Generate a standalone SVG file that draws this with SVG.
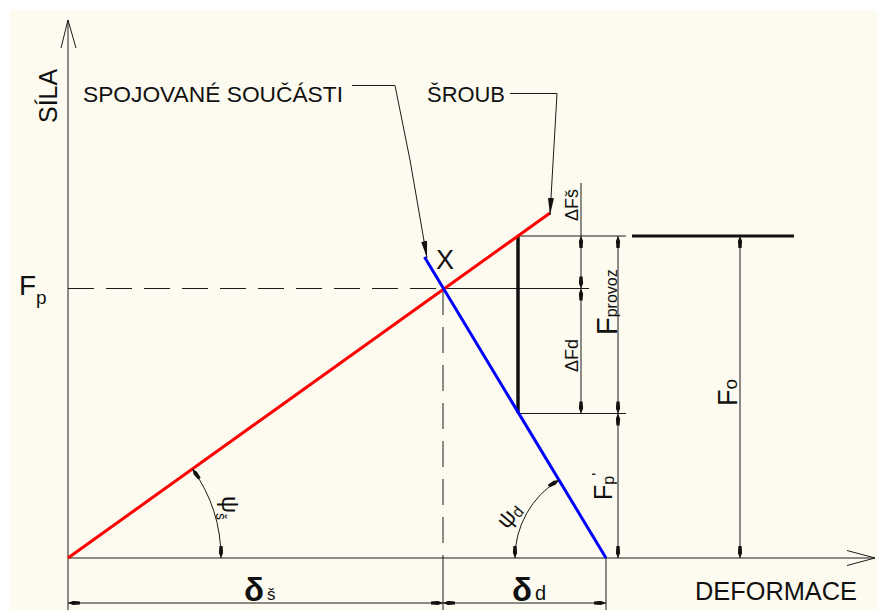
<svg xmlns="http://www.w3.org/2000/svg" width="877" height="610" viewBox="0 0 877 610">
<defs>
<style>
.ln{stroke:#1a1a1a;stroke-width:1;fill:none}
.dash{stroke:#1a1a1a;stroke-width:1;fill:none;stroke-dasharray:26 12}
.dim{stroke:#1a1a1a;stroke-width:1;fill:none;marker-start:url(#da);marker-end:url(#da)}
.lead{stroke:#1a1a1a;stroke-width:1;fill:none;marker-end:url(#la)}
text{font-family:"Liberation Sans",Arial,sans-serif;fill:#111}
</style>
<marker id="da" markerUnits="userSpaceOnUse" viewBox="0 0 13 5" markerWidth="13" markerHeight="5" refX="13" refY="2.5" orient="auto-start-reverse">
<path d="M13,2.5 L8,0.4 L1,0.9 L1,4.1 L8,4.6 z" fill="#111"/>
</marker>
<marker id="la" markerUnits="userSpaceOnUse" viewBox="0 0 17 6" markerWidth="17" markerHeight="6" refX="17" refY="3" orient="auto">
<path d="M0,0 L17,3 L0,6 z" fill="#111"/>
</marker>
</defs>
<rect width="877" height="610" fill="#ffffff"/>
<rect x="10" y="10" width="867" height="600" fill="#fdfbef"/>

<g id="axes">
<path class="ln" d="M68,610 V20 M61,48 L68,20 L76,48"/>
<path class="ln" d="M68,558 H875 M847,550.5 L875,558 L847,565.5"/>
<text transform="translate(57,123) rotate(-90)" font-size="25">SÍLA</text>
<text x="695" y="600" font-size="25.5" textLength="162" lengthAdjust="spacingAndGlyphs">DEFORMACE</text>
<text x="19" y="295" font-size="28">F<tspan font-size="19" dy="9">p</tspan></text>
</g>

<g id="connectors">
<path class="dash" d="M68,288.5 H443"/>
<path class="dash" d="M443,289 V558"/>
<path class="ln" d="M443,288.5 H589"/>
<path class="ln" d="M443,558 V610 M606,558 V610"/>
<path class="ln" d="M518,236 H626 M518,413.5 H626"/>
<line x1="632" y1="236" x2="794" y2="236" stroke="#111" stroke-width="3"/>
<line x1="518" y1="236" x2="518" y2="413" stroke="#111" stroke-width="3.5"/>
</g>

<g id="lines">
<line x1="68" y1="558" x2="550" y2="213" stroke="#ff0000" stroke-width="3"/>
<line x1="424.5" y1="257" x2="606" y2="558" stroke="#0000ff" stroke-width="3"/>
<text x="436" y="269" font-size="27">X</text>
</g>

<g id="leaders">
<text x="83" y="102" font-size="22" textLength="260" lengthAdjust="spacingAndGlyphs">SPOJOVANÉ SOUČÁSTI</text>
<path class="lead" d="M352,85.5 H395 L410,160 L427,258"/>
<text x="427" y="102" font-size="22" textLength="78" lengthAdjust="spacingAndGlyphs">ŠROUB</text>
<path class="lead" d="M510,93.5 H557 L550,215"/>
</g>

<g id="dims">
<path class="ln" d="M581,183 V236"/>
<path class="dim" d="M581,236 V288.5"/>
<path class="dim" d="M581,288.5 V413.5"/>
<text transform="translate(578,221) rotate(-90)" font-size="18">ΔFš</text>
<text transform="translate(578,372) rotate(-90)" font-size="18">ΔFd</text>
<path class="dim" d="M618,236 V413.5"/>
<path class="dim" d="M618,413.5 V558"/>
<text transform="translate(617,335) rotate(-90)" font-size="29">F<tspan font-size="16">provoz</tspan></text>
<text transform="translate(612,500) rotate(-90)" font-size="25">F<tspan font-size="16" dy="2">p</tspan><tspan font-size="16" dy="-10">'</tspan></text>
<path class="dim" d="M740,236 V558"/>
<text transform="translate(737,406) rotate(-90)" font-size="27">F<tspan font-size="19">o</tspan></text>
<path class="dim" d="M68,603 H443"/>
<path class="dim" d="M443,603 H606"/>
<text x="244" y="601" font-size="33" font-weight="bold">δ</text>
<text x="267" y="600" font-size="17">š</text>
<text x="512" y="601" font-size="33" font-weight="bold">δ</text>
<text x="535" y="600" font-size="20">d</text>
</g>

<g id="angles">
<path class="dim" d="M192.4,468.9 A153,153 0 0 1 221,558"/>
<text transform="translate(222,496) rotate(90)" font-size="24">ψ<tspan font-size="14" dy="6">š</tspan></text>
<path class="dim" d="M559,480 A91,91 0 0 0 515,558"/>
<text transform="translate(507,530) rotate(-50)" font-size="23">ψ<tspan font-size="16" dy="2">d</tspan></text>
</g>
</svg>
